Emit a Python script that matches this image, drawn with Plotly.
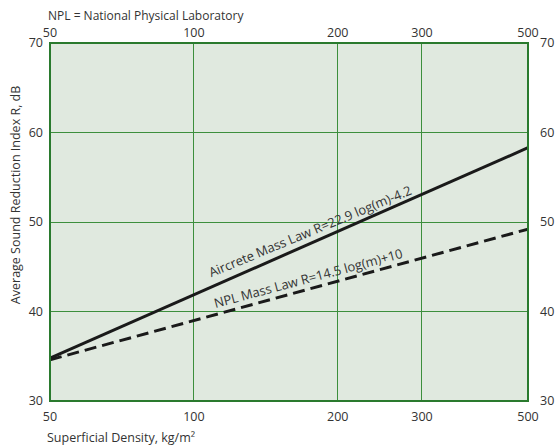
import plotly.graph_objects as go

# Data
density = [50, 500]
aircrete_R = [34.8, 58.3]
npl_R = [34.6, 49.2]
x_ticks = [50, 100, 200, 300, 500]
y_ticks = [30, 40, 50, 60, 70]

FONT = "Open Sans"
GRID = "#3d8f3d"
FRAME = "#2a7a2e"
TXT = "#333333"

fig = go.Figure()
fig.add_trace(go.Scatter(x=density, y=aircrete_R, mode="lines",
                         line=dict(color="#1a1a1a", width=3), showlegend=False))
fig.add_trace(go.Scatter(x=density, y=npl_R, mode="lines",
                         line=dict(color="#1a1a1a", width=3, dash="12px,6px"), showlegend=False))
# invisible trace for mirrored axes
fig.add_trace(go.Scatter(x=density, y=aircrete_R, xaxis="x2", yaxis="y2", mode="lines",
                         line=dict(width=0), opacity=0, showlegend=False, hoverinfo="skip"))

axis_common = dict(showline=False, zeroline=False, ticks="", automargin=False,
                   tickfont=dict(family=FONT, size=12.5, color=TXT))
fig.update_layout(
    width=556, height=446,
    margin=dict(l=50, r=28, t=43, b=45),
    paper_bgcolor="white", plot_bgcolor="#e0e9df",
    font=dict(family=FONT, size=12, color=TXT),
    xaxis=dict(type="log", range=[1.69897, 2.69897], tickvals=x_ticks,
               ticktext=[str(v) for v in x_ticks], showgrid=True, gridcolor=GRID,
               gridwidth=1, ticklabelstandoff=6, **axis_common),
    yaxis=dict(range=[30, 70], tickvals=y_ticks, showgrid=True, gridcolor=GRID, gridwidth=1,
               ticklabelstandoff=6, **axis_common),
    xaxis2=dict(type="log", range=[1.69897, 2.69897], tickvals=x_ticks,
                ticktext=[str(v) for v in x_ticks], overlaying="x", side="top",
                showgrid=False, ticklabelstandoff=3, **axis_common),
    yaxis2=dict(range=[30, 70], tickvals=y_ticks, overlaying="y", side="right",
                showgrid=False, ticklabelstandoff=11, **axis_common),
)

# frame
fig.add_shape(type="rect", xref="paper", yref="paper", x0=0, y0=0, x1=1, y1=1,
              line=dict(color=FRAME, width=2), layer="above")

fig.add_annotation(text="NPL = National Physical Laboratory", xref="paper", yref="paper",
                   x=-0.008, y=1.0, yshift=28, xanchor="left", yanchor="middle",
                   showarrow=False, font=dict(family=FONT, size=12, color=TXT))
fig.add_annotation(text="Superficial Density, kg/m\u00b2", xref="paper", yref="paper",
                   x=-0.01, y=0, yshift=-36, xanchor="left", yanchor="middle",
                   showarrow=False, font=dict(family=FONT, size=12.5, color=TXT))
fig.add_annotation(text="Average Sound Reduction Index R, dB", xref="paper", yref="paper",
                   x=0, xshift=-35, y=0.575, xanchor="center", yanchor="middle",
                   textangle=-90, showarrow=False,
                   font=dict(family=FONT, size=12.5, color=TXT))

fig.add_annotation(text="Aircrete Mass Law R=22.9 log(m)-4.2", x=2.243, y=49.0,
                   textangle=-22.5, showarrow=False,
                   font=dict(family=FONT, size=13, color=TXT))
fig.add_annotation(text="NPL Mass Law R=14.5 log(m)+10", x=2.239, y=43.7,
                   textangle=-15, showarrow=False,
                   font=dict(family=FONT, size=13, color=TXT))

fig.write_html("out.html", config={"displayModeBar": False},
               post_script="document.body.style.margin='0';document.body.style.overflow='hidden';")
